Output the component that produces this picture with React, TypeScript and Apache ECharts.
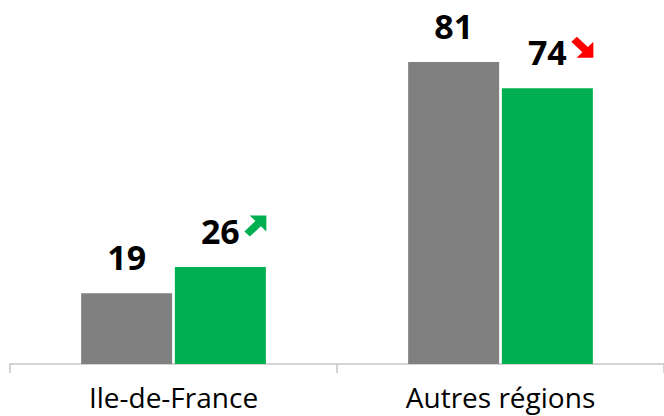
import React, { useEffect, useRef } from "react";
import * as echarts from "echarts";

const categories = ["Ile-de-France", "Autres régions"];
const seriesPrev = [19, 81];
const seriesCurr = [26, 74];
const trends = ["up", "down"];

const UP_ARROW = "path://M2.4,0 L10,0 L10,7.6 L7.5,5.1 L2.5,10.1 L0,7.6 L5,2.6 Z";
const DOWN_ARROW = "path://M2.4,10 L10,10 L10,2.4 L7.5,4.9 L2.5,-0.1 L0,2.4 L5,7.4 Z";

export default function App() {
  const ref = useRef<HTMLDivElement>(null);
  useEffect(() => {
    if (!ref.current) return;
    const chart = echarts.init(ref.current, null, { renderer: "svg" });
    const labelStyle = {
      show: true,
      position: "top" as const,
      distance: 19,
      fontFamily: "Open Sans",
      fontWeight: "bold" as const,
      fontSize: 34,
      color: "#000000",
    };
    chart.setOption({
      animation: false,
      grid: { left: 10, right: 0, top: 28.5, bottom: 52 },
      xAxis: {
        type: "category",
        data: categories,
        axisLine: { show: true, lineStyle: { color: "#C6C6C6", width: 1.5 } },
        axisTick: { show: true, length: 9, lineStyle: { color: "#C6C6C6", width: 1.5 } },
        axisLabel: {
          fontFamily: "Open Sans",
          fontSize: 28,
          color: "#000000",
          margin: 19,
        },
      },
      yAxis: { type: "value", show: false, min: 0, max: 90, splitLine: { show: false } },
      series: [
        {
          type: "bar",
          data: seriesPrev,
          barWidth: 91,
          barGap: "3%",
          itemStyle: { color: "#808080" },
          label: labelStyle,
        },
        {
          type: "bar",
          data: seriesCurr,
          barWidth: 91,
          itemStyle: { color: "#00B050" },
          label: labelStyle,
          markPoint: {
            silent: true,
            label: { show: false },
            data: seriesCurr.map((v, i) => ({
              coord: [categories[i], v],
              symbol: trends[i] === "up" ? UP_ARROW : DOWN_ARROW,
              symbolSize: [22, 21],
              symbolOffset: [35, -41],
              itemStyle: { color: trends[i] === "up" ? "#00B050" : "#FF0000" },
            })),
          },
        },
      ],
    });
    return () => chart.dispose();
  }, []);
  return (
    <div
      ref={ref}
      style={{ position: "fixed", left: 0, top: 0, width: 664, height: 416, background: "#fff" }}
    />
  );
}
